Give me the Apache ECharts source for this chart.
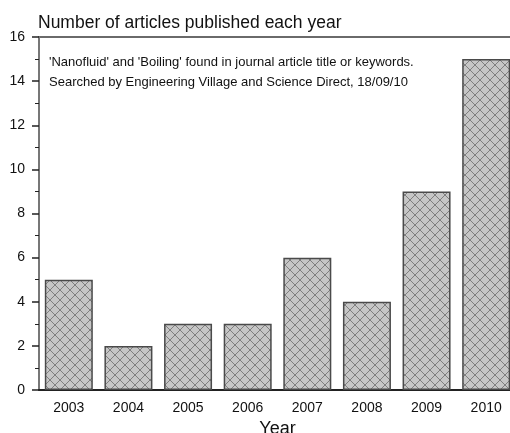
<!DOCTYPE html>
<html>
<head>
<meta charset="utf-8">
<script src="https://cdn.jsdelivr.net/npm/echarts@6/dist/echarts.min.js"></script>
<style>
  html, body { margin: 0; padding: 0; background: #fff; }
  #chart { width: 510px; height: 433px; }
</style>
</head>
<body>
<div id="chart"></div>
<script>
const years = ['2003', '2004', '2005', '2006', '2007', '2008', '2009', '2010'];
const articles = [5, 2, 3, 3, 6, 4, 9, 15];
const notes = [
  "'Nanofluid' and 'Boiling' found in journal article title or keywords.",
  'Searched by Engineering Village and Science Direct, 18/09/10'
];

// cross-hatch fill for the bars
function hatch() {
  const c = document.createElement('canvas');
  c.width = 10;
  c.height = 10;
  const ctx = c.getContext('2d');
  ctx.fillStyle = '#c6c6c6';
  ctx.fillRect(0, 0, 10, 10);
  ctx.strokeStyle = '#777';
  ctx.lineWidth = 0.9;
  ctx.beginPath();
  ctx.moveTo(0, 0); ctx.lineTo(10, 10);
  ctx.moveTo(10, 0); ctx.lineTo(0, 10);
  ctx.stroke();
  return c;
}

const chart = echarts.init(document.getElementById('chart'), null, { renderer: 'canvas' });
const font = 'Liberation Sans, Arial, sans-serif';

chart.setOption({
  animation: false,
  title: {
    text: 'Number of articles published each year',
    left: 33,
    top: 9,
    textStyle: { fontFamily: font, fontSize: 17.5, fontWeight: 'normal', color: '#111' }
  },
  graphic: notes.map((t, i) => ({
    type: 'text',
    left: 49,
    top: 56 + i * 20,
    style: { text: t, font: '13px ' + font, fill: '#111' }
  })),
  grid: {
    left: 39,
    width: 477,
    top: 37,
    height: 353,
    outerBoundsMode: 'none',
    show: true,
    borderColor: '#6a6a6a',
    borderWidth: 1.8
  },
  xAxis: [
    {
      type: 'category',
      data: years,
      name: 'Year',
      nameLocation: 'middle',
      nameGap: 24,
      nameTextStyle: { fontFamily: font, fontSize: 18, color: '#111' },
      axisLine: { lineStyle: { color: '#222', width: 1.8 } },
      axisTick: { alignWithLabel: true, length: 6, lineStyle: { color: '#222', width: 1.5 } },
      axisLabel: { margin: 11, fontFamily: font, fontSize: 14, color: '#111' }
    },
    {
      type: 'category',
      data: years,
      position: 'bottom',
      axisLine: { show: false },
      axisTick: { length: 3.5, lineStyle: { color: '#222', width: 1.2 } },
      axisLabel: { show: false }
    }
  ],
  yAxis: {
    type: 'value',
    min: 0,
    max: 16,
    interval: 2,
    axisLine: { show: true, lineStyle: { color: '#777', width: 2 } },
    axisTick: { show: true, length: 7, lineStyle: { color: '#222', width: 1.5 } },
    minorTick: { show: true, splitNumber: 2, length: 4, lineStyle: { color: '#222', width: 1 } },
    splitLine: { show: false },
    axisLabel: { margin: 14, fontFamily: font, fontSize: 14, color: '#111' }
  },
  series: [
    {
      type: 'bar',
      data: articles,
      barCategoryGap: '19.5%',
      itemStyle: {
        color: { image: hatch(), repeat: 'repeat' },
        borderColor: '#4a4a4a',
        borderWidth: 1.5
      }
    }
  ]
});
</script>
</body>
</html>
